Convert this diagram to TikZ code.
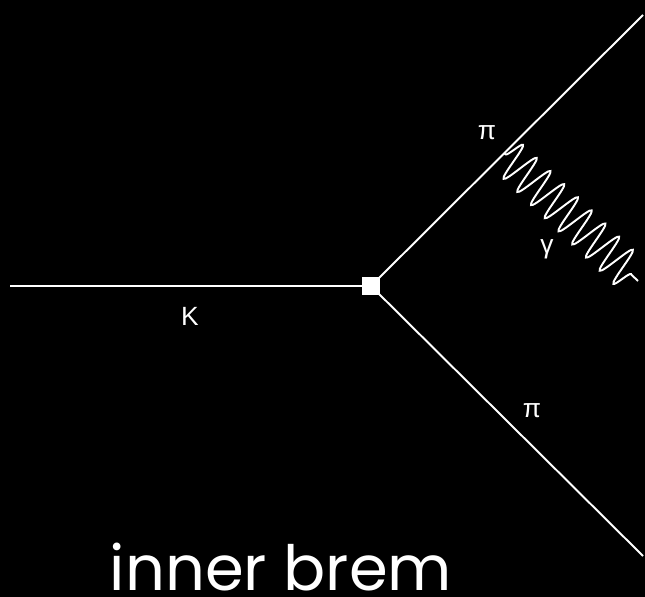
\documentclass[tikz,border=0pt]{standalone}
\usepackage{fontspec}
\setmainfont{Liberation Sans}
\newfontfamily\titlefont{Poppins}
\usepackage{tikz}
\usetikzlibrary{decorations.pathmorphing,positioning,calc}

\begin{document}
\begin{tikzpicture}[
  x=0.02cm,y=-0.02cm,
  every node/.style={font=\fontsize{15}{17}\selectfont,text=white},
  fermion/.style={draw=white,line width=1.1pt},
  photon/.style={draw=white,line width=1.1pt,decorate,decoration={snake,segment length=0.38cm,amplitude=0.38cm,pre length=1pt,post length=2pt}},
  vertexbox/.style={fill=white,minimum size=0.36cm,inner sep=0pt}
]
\fill[black] (0,0) rectangle (645,597);
\useasboundingbox (0,0) rectangle (645,597);
\node[vertexbox] (v) at (371,286) {};
\coordinate (kin) at (10,286);
\coordinate (piup) at (643,15);
\coordinate (pidown) at (643,556);
\coordinate (emit) at ($(v)!0.49!(piup)$);
\coordinate (gend) at (638,281);
\draw[fermion] (kin) -- (v.center);
\draw[fermion] (v.center) -- (piup);
\draw[fermion] (v.center) -- (pidown);
\draw[photon] (emit) -- (gend);
% labels
\node (lk) at (190,316) {K};
\node (lpiup) at (487,133) {π};
\node (lgam) at (547,249) {γ};
\node (lpidown) at (532,411) {π};
\node[font=\titlefont\fontsize{35.5}{40}\selectfont,anchor=base,inner sep=0pt] (title) at (281,590) {inner brem};
\end{tikzpicture}
\end{document}
